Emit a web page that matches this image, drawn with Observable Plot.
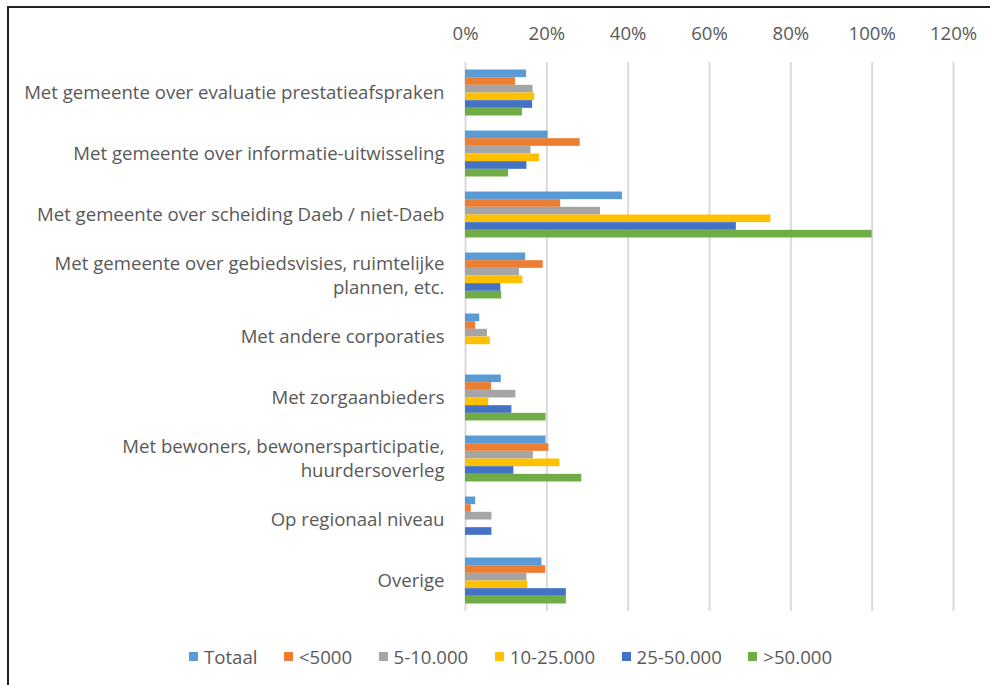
<!DOCTYPE html>
<html>
<head>
<meta charset="utf-8">
<script src="https://cdn.jsdelivr.net/npm/d3@7"></script>
<script src="https://cdn.jsdelivr.net/npm/@observablehq/plot@0.6"></script>
<style>
  html, body { margin: 0; padding: 0; background: #fff; }
  body { width: 990px; height: 685px; position: relative; overflow: hidden; font-family: "Open Sans", sans-serif; }
  #frameTop { position: absolute; left: 7px; top: 6px; width: 983px; height: 2px; background: #222; }
  #frameLeft { position: absolute; left: 7px; top: 6px; width: 2px; height: 679px; background: #222; }
  #chart { position: absolute; left: 0; top: 0; }
  #legend { position: absolute; top: 644px; left: 189px; display: flex; align-items: center; font-size: 18.6px; color: #595959; }
  .item { display: flex; align-items: center; margin-right: 26.5px; }
  .sw { width: 9px; height: 9px; margin-right: 6px; }
</style>
</head>
<body>
<div id="chart"></div>
<div id="frameTop"></div>
<div id="frameLeft"></div>
<div id="legend"></div>
<script>
const categories = [
  "Met gemeente over evaluatie prestatieafspraken",
  "Met gemeente over informatie-uitwisseling",
  "Met gemeente over scheiding Daeb / niet-Daeb",
  "Met gemeente over gebiedsvisies, ruimtelijke plannen, etc.",
  "Met andere corporaties",
  "Met zorgaanbieders",
  "Met bewoners, bewonersparticipatie, huurdersoverleg",
  "Op regionaal niveau",
  "Overige"
];
const categoryLabels = [
  "Met gemeente over evaluatie prestatieafspraken",
  "Met gemeente over informatie-uitwisseling",
  "Met gemeente over scheiding Daeb / niet-Daeb",
  "Met gemeente over gebiedsvisies, ruimtelijke\nplannen, etc.",
  "Met andere corporaties",
  "Met zorgaanbieders",
  "Met bewoners, bewonersparticipatie,\nhuurdersoverleg",
  "Op regionaal niveau",
  "Overige"
];
const series = ["Totaal", "<5000", "5-10.000", "10-25.000", "25-50.000", ">50.000"];
const colors = ["#5B9BD5", "#ED7D31", "#A5A5A5", "#FFC000", "#4472C4", "#70AD47"];

const totaal  = [15.0, 20.3, 38.6, 14.8, 3.5,  8.8, 19.8, 2.5, 18.8];
const lt5000  = [12.3, 28.2, 23.4, 19.1, 2.5,  6.4, 20.5, 1.4, 19.7];
const s5_10   = [16.6, 16.1, 33.2, 13.3, 5.4, 12.4, 16.7, 6.5, 15.1];
const s10_25  = [17.0, 18.2, 75.1, 14.1, 6.1,  5.7, 23.2, 0,   15.3];
const s25_50  = [16.5, 15.1, 66.6,  8.7, 0,   11.4, 11.9, 6.5, 24.8];
const gt50000 = [14.0, 10.6, 100,   8.9, 0,   19.8, 28.6, 0,   24.8];

const xTicks = [0, 20, 40, 60, 80, 100, 120];
const xTickLabels = ["0%", "20%", "40%", "60%", "80%", "100%", "120%"];

const seriesValues = [totaal, lt5000, s5_10, s10_25, s25_50, gt50000];
const data = [];
categories.forEach((c, i) => {
  series.forEach((s, j) => {
    data.push({category: c, series: s, value: seriesValues[j][i]});
  });
});

const labelOf = new Map(categories.map((c, i) => [c, categoryLabels[i]]));
const tickLabelOf = new Map(xTicks.map((t, i) => [t, xTickLabels[i]]));

const chart = Plot.plot({
  width: 990,
  height: 630,
  marginLeft: 465,
  marginRight: 37,
  marginTop: 62,
  marginBottom: 19,
  style: {fontFamily: "Open Sans, sans-serif", fontSize: "18.6px", color: "#595959", background: "transparent"},
  x: {domain: [0, 120], label: null},
  fy: {domain: categories, padding: 0, round: false, label: null},
  y: {domain: series, paddingInner: 0, paddingOuter: 0.98, round: false, axis: null, label: null},
  color: {domain: series, range: colors},
  marks: [
    Plot.gridX(xTicks, {stroke: "#d9d9d9", strokeOpacity: 1, strokeWidth: 2}),
    Plot.axisX(xTicks, {anchor: "top", tickSize: 0, tickPadding: 23, tickFormat: d => tickLabelOf.get(d), label: null, fontSize: 18.6}),
    Plot.axisFy({anchor: "left", tickSize: 0, tickPadding: 21, dy: -2, tickFormat: d => labelOf.get(d), label: null, fontSize: 18.6, lineHeight: 1.3}),
    Plot.barX(data, {x: "value", y: "series", fy: "category", fill: "series"})
  ]
});
document.getElementById("chart").appendChild(chart);

const legend = document.getElementById("legend");
series.forEach((s, i) => {
  const item = document.createElement("div");
  item.className = "item";
  const sw = document.createElement("div");
  sw.className = "sw";
  sw.style.background = colors[i];
  const t = document.createElement("span");
  t.textContent = s;
  item.appendChild(sw);
  item.appendChild(t);
  legend.appendChild(item);
});
</script>
</body>
</html>
